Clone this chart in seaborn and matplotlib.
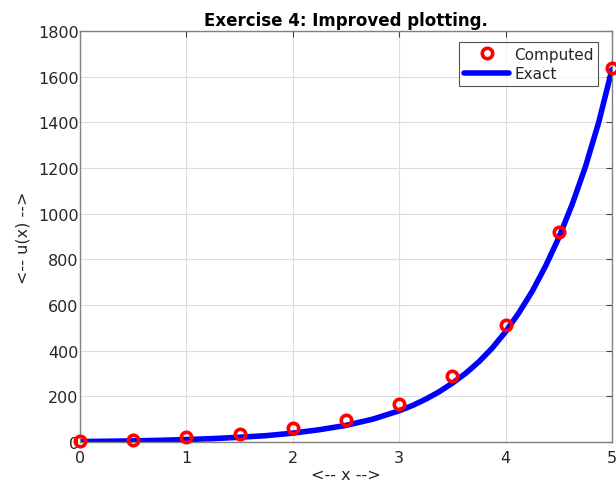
import numpy as np
import pandas as pd
import matplotlib
matplotlib.use("Agg")
import matplotlib.pyplot as plt
import seaborn as sns

# computed values (markers)
x_comp = [0, 0.5, 1, 1.5, 2, 2.5, 3, 3.5, 4, 4.5, 5]
u_comp = [3, 8, 20, 35, 60, 98, 165, 289, 512, 918, 1638]

# exact curve
x_exact = [0, 0.25, 0.5, 0.75, 1, 1.25, 1.5, 1.75, 2, 2.25, 2.5, 2.75,
           3, 3.125, 3.25, 3.375, 3.5, 3.625, 3.75, 3.875, 4, 4.125, 4.25,
           4.375, 4.5, 4.625, 4.75, 4.875, 5]
u_exact = [2, 3.5, 5, 7.5, 11, 15, 21, 28, 39, 54, 73, 100,
           137, 160, 188, 220, 258, 301, 352, 412, 483, 566, 660,
           770, 895, 1040, 1205, 1400, 1632]

sns.set_style("white")
plt.rcParams['font.family'] = ['DejaVu Sans']

fig = plt.figure(figsize=(6.16, 4.89), dpi=100)
ax = fig.add_axes([0.130, 0.094, 0.8635, 0.8406])

df_comp = pd.DataFrame({'x': x_comp, 'u': u_comp})
df_exact = pd.DataFrame({'x': x_exact, 'u': u_exact})

ax.plot(df_comp['x'], df_comp['u'], 'o', ms=7.5, mfc='none', mec='red', mew=2.6,
        label='Computed', zorder=3, clip_on=False)
sns.lineplot(data=df_exact, x='x', y='u', color='blue', lw=4, label='Exact',
             ax=ax, zorder=2)

ax.set_xlim(0, 5)
ax.set_ylim(0, 1800)
ax.set_xticks(np.arange(0, 6, 1))
ax.set_yticks(np.arange(0, 2000, 200))
ax.grid(True, color='#dcdcdc', lw=0.8)
for s in ax.spines.values():
    s.set_color('#808080')
    s.set_linewidth(1.0)
ax.tick_params(direction='in', top=True, right=True, length=4, color='#404040',
               labelsize=11.5, labelcolor='#262626')
ax.tick_params(axis='y', pad=1)
ax.tick_params(axis='x', pad=6)

ax.set_xlabel('<-- x -->', fontsize=11.5, color='#262626', labelpad=1)
ax.set_ylabel('<-- u(x) -->', fontsize=11.5, color='#262626', labelpad=5)
ax.set_title('Exercise 4: Improved plotting.', fontsize=12, fontweight='bold',
             color='black', pad=4)

leg = ax.legend(loc='upper right', fontsize=11, frameon=True, fancybox=False,
                edgecolor='#262626', borderpad=0.3, handlelength=3.0,
                labelspacing=0.3, handletextpad=0.3, borderaxespad=0,
                bbox_to_anchor=(0.974, 0.973))
leg.get_frame().set_linewidth(0.8)

fig.savefig('out.png', dpi=100)
